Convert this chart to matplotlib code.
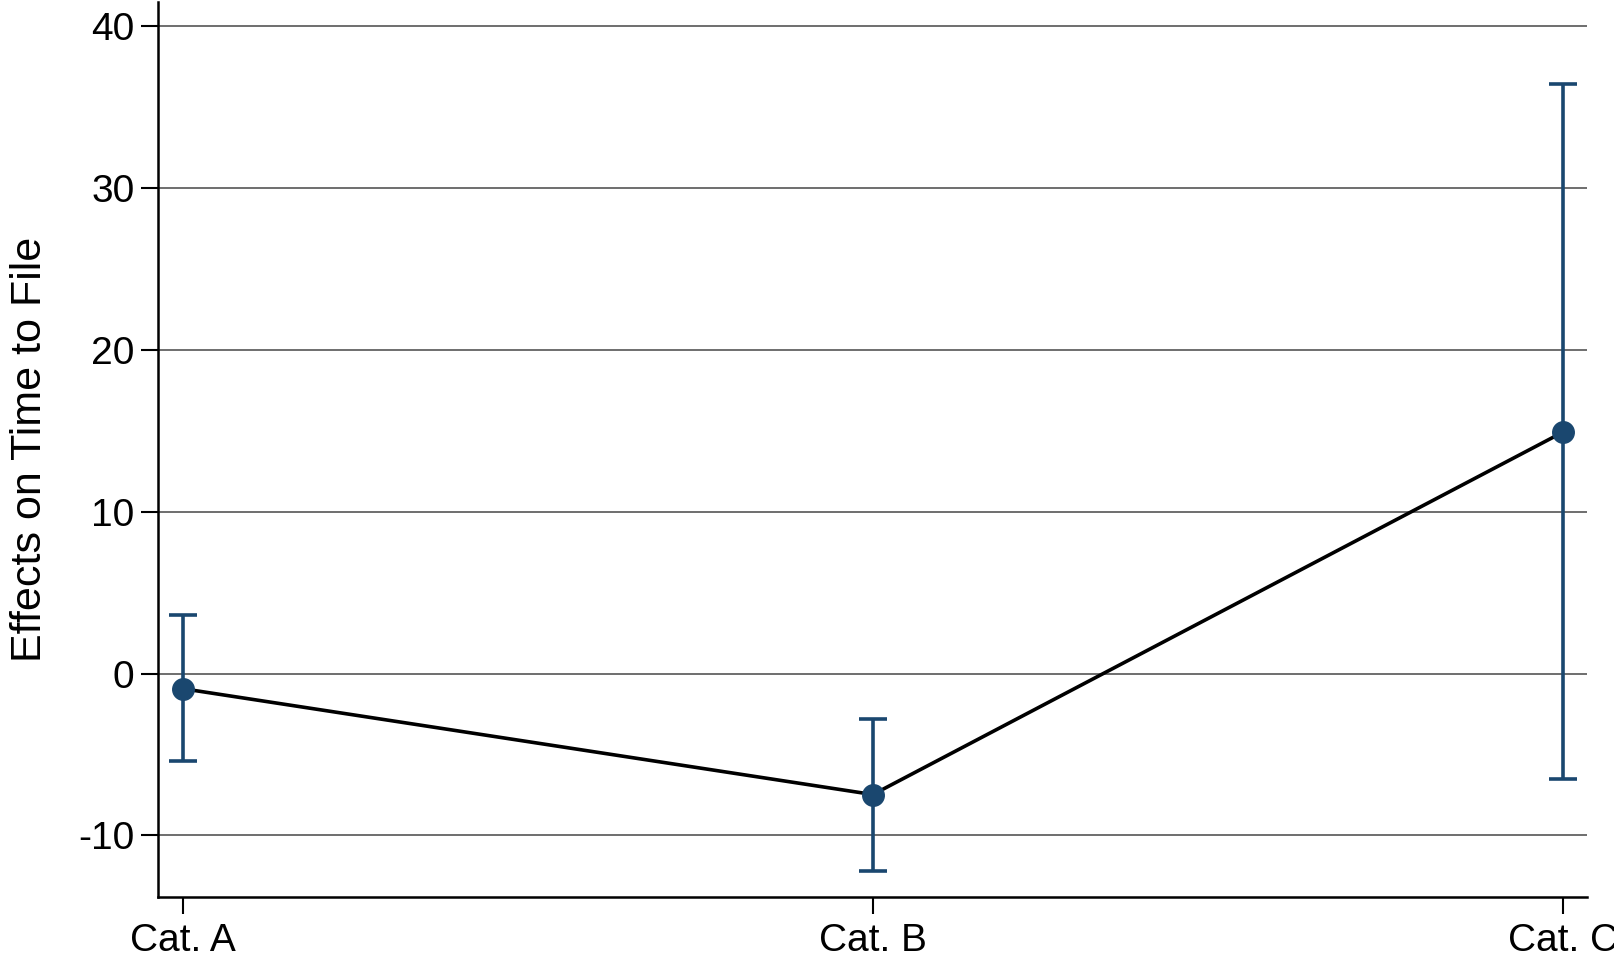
import matplotlib.pyplot as plt
import numpy as np

plt.rcParams['font.family'] = ['Liberation Sans', 'DejaVu Sans']

# estimates with confidence intervals
categories = ["Cat. A", "Cat. B", "Cat. C"]
estimates = [-0.93, -7.47, 14.92]
ci_lower = [-5.41, -12.2, -6.54]
ci_upper = [3.6, -2.8, 36.4]
y_ticks = [-10, 0, 10, 20, 30, 40]

navy = "#1a476f"

fig = plt.figure(figsize=(16.15, 9.64), dpi=100)
ax = fig.add_axes([0.0978, 0.0695, 0.8849, 0.9285])

x = np.arange(len(categories))
est = np.array(estimates)
yerr = np.vstack([est - np.array(ci_lower), np.array(ci_upper) - est])

ax.errorbar(x, est, yerr=yerr, fmt="none", ecolor=navy, elinewidth=2.6,
            capsize=10, capthick=2.6, zorder=2)
ax.plot(x, est, color="black", lw=2.6, zorder=3)
ax.plot(x, est, "o", color=navy, markersize=15.5, zorder=4)

ax.set_xlim(-0.036, 2.035)
ax.set_ylim(-13.8, 41.5)
ax.set_xticks(x)
ax.set_xticklabels(categories)
ax.set_yticks(y_ticks)
ax.set_yticklabels([str(t) for t in y_ticks])
ax.tick_params(axis="both", labelsize=28, length=12, width=1.5, direction="out")
ax.tick_params(axis="y", pad=5)
ax.tick_params(axis="x", pad=7)
ax.set_ylabel("Effects on Time to File", fontsize=31, labelpad=20)

ax.grid(axis="y", color="#555555", lw=1.2)
ax.set_axisbelow(True)
for side in ["top", "right"]:
    ax.spines[side].set_visible(False)
for side in ["left", "bottom"]:
    ax.spines[side].set_linewidth(1.8)

fig.savefig("out.png", dpi=100)
plt.close()
